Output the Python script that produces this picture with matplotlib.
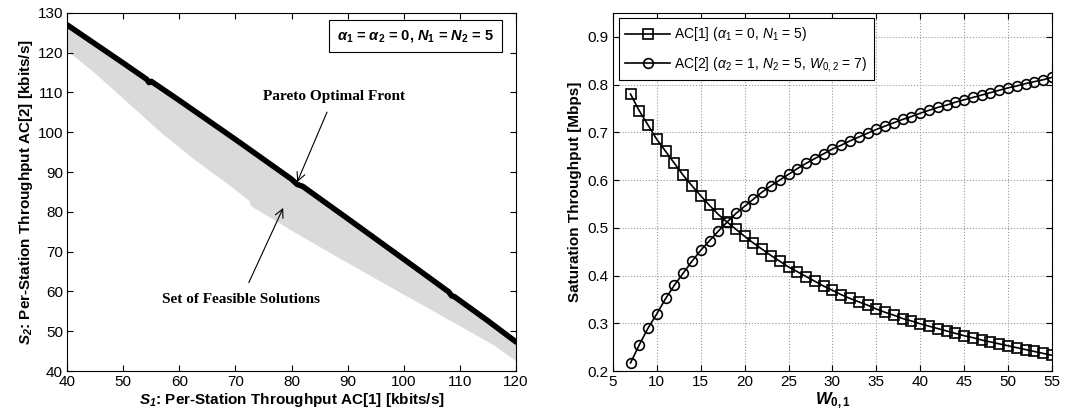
import matplotlib
matplotlib.use("Agg")
import matplotlib.pyplot as plt

plt.rcParams['font.family'] = ['Liberation Sans', 'DejaVu Sans']
plt.rcParams['font.size'] = 11
plt.rcParams['mathtext.fontset'] = 'custom'
plt.rcParams['mathtext.rm'] = 'Liberation Sans'
plt.rcParams['mathtext.it'] = 'Liberation Sans:italic'
plt.rcParams['mathtext.bf'] = 'Liberation Sans:bold'
plt.rcParams['mathtext.bfit'] = 'Liberation Sans:bold:italic'

# left panel: Pareto front and feasible region (kbits/s)
front_s1 = [40, 45, 50, 54.2, 54.6, 55, 60, 65, 70, 75, 80, 81, 82, 90, 100, 108, 108.5, 109, 115, 120]
front_s2 = [127, 122.2, 117.4, 113.3, 112.5, 112.8, 108.0, 103.1, 98.2, 93.2, 88.2, 86.9, 86.4, 78.3, 68.1, 59.9, 58.9, 58.7, 52.6, 47.3]
low_s1 = [40, 45, 51, 57, 63, 69, 72.6, 72.7, 80, 88.7, 100, 110, 116, 120]
low_s2 = [120.5, 114.8, 107.2, 99.6, 92.8, 86.6, 82.6, 81.5, 75.3, 68.2, 59.2, 51.3, 46.5, 42.5]

# right panel: saturation throughput vs W_0,1 (Mbps)
w01 = list(range(7, 56))
ac1 = [0.780, 0.745, 0.715, 0.685, 0.660, 0.635, 0.610, 0.588, 0.567, 0.547,
       0.528, 0.512, 0.497, 0.482, 0.468, 0.455, 0.442, 0.430, 0.418, 0.408,
       0.398, 0.388, 0.378, 0.369, 0.360, 0.352, 0.345, 0.338, 0.330, 0.323,
       0.317, 0.310, 0.305, 0.299, 0.294, 0.289, 0.284, 0.279, 0.274, 0.270,
       0.265, 0.261, 0.257, 0.253, 0.249, 0.245, 0.241, 0.237, 0.233]
ac2 = [0.217, 0.255, 0.290, 0.320, 0.352, 0.380, 0.405, 0.430, 0.453, 0.473,
       0.493, 0.512, 0.530, 0.545, 0.560, 0.575, 0.588, 0.600, 0.612, 0.624,
       0.635, 0.645, 0.655, 0.665, 0.673, 0.682, 0.690, 0.698, 0.706, 0.713,
       0.720, 0.727, 0.733, 0.740, 0.746, 0.752, 0.757, 0.763, 0.768, 0.773,
       0.778, 0.783, 0.788, 0.793, 0.797, 0.802, 0.806, 0.810, 0.815]

fig = plt.figure(figsize=(10.82, 4.16), dpi=100)
ax1 = fig.add_axes([0.062, 0.108, 0.415, 0.861])
ax2 = fig.add_axes([0.5665, 0.108, 0.4057, 0.861])

# feasible region: polygon between front and lower edge
poly_x = front_s1 + low_s1[::-1]
poly_y = front_s2 + low_s2[::-1]
ax1.fill(poly_x, poly_y, color='#dadada', lw=0, zorder=1)
ax1.plot(front_s1, front_s2, color='black', lw=4, solid_capstyle='round', zorder=3)

ax1.set_xlim(40, 120)
ax1.set_ylim(40, 130)
ax1.set_xticks(range(40, 121, 10))
ax1.set_yticks(range(40, 131, 10))
ax1.set_xlabel(r'$\mathbfit{S_1}$: Per-Station Throughput AC[1] [kbits/s]', fontweight='bold', labelpad=1)
ax1.set_ylabel(r'$\mathbfit{S_2}$: Per-Station Throughput AC[2] [kbits/s]', fontweight='bold', labelpad=2)

ax1.annotate('Pareto Optimal Front', xy=(81, 87.5), xytext=(87.5, 109),
             ha='center', va='center', family='Liberation Serif', fontweight='bold', fontsize=11,
             arrowprops=dict(arrowstyle='->', color='black', lw=0.8, shrinkA=5, shrinkB=0,
                             mutation_scale=15))
ax1.annotate('Set of Feasible Solutions', xy=(78.5, 81), xytext=(71, 58),
             ha='center', va='center', family='Liberation Serif', fontweight='bold', fontsize=11,
             arrowprops=dict(arrowstyle='->', color='black', lw=0.8, shrinkA=6, shrinkB=0,
                             mutation_scale=15))
ax1.text(102, 124.2, r'$\mathbfit{\alpha}_\mathbf{1}$ = $\mathbfit{\alpha}_\mathbf{2}$ = 0, '
         r'$\mathbfit{N}_\mathbf{1}$ = $\mathbfit{N}_\mathbf{2}$ = 5',
         ha='center', va='center', fontweight='bold', fontsize=10.5,
         bbox=dict(boxstyle='square,pad=0.55', fc='white', ec='black', lw=0.8))

ax2.plot(w01, ac1, color='black', lw=1.2, marker='s', ms=7, mfc='none', mec='black', mew=1.2,
         label=r'AC[1] ($\alpha_1$ = 0, $N_1$ = 5)')
ax2.plot(w01, ac2, color='black', lw=1.2, marker='o', ms=7, mfc='none', mec='black', mew=1.2,
         label=r'AC[2] ($\alpha_2$ = 1, $N_2$ = 5, $W_{0,2}$ = 7)')
ax2.set_xlim(5, 55)
ax2.set_ylim(0.2, 0.95)
ax2.set_xticks(range(5, 56, 5))
ax2.set_yticks([0.2, 0.3, 0.4, 0.5, 0.6, 0.7, 0.8, 0.9])
ax2.grid(True, color='#9a9a9a', ls=':', lw=0.8)
ax2.set_xlabel(r'$\mathbfit{W}_\mathbf{0,1}$', fontsize=12, labelpad=1)
ax2.set_ylabel('Saturation Throughput [Mbps]', fontweight='bold', labelpad=4)
leg = ax2.legend(loc='upper left', fontsize=10, frameon=True, fancybox=False, edgecolor='black',
                 framealpha=1, handlelength=3.2, borderaxespad=0.4, labelspacing=0.8,
                 handletextpad=0.3, borderpad=0.5)
leg.get_frame().set_linewidth(0.8)

for ax in (ax1, ax2):
    ax.tick_params(direction='in', top=True, right=True, length=4, width=0.8, labelsize=11, pad=3)
    for s in ax.spines.values():
        s.set_linewidth(0.8)

fig.savefig('out.png', dpi=100)
